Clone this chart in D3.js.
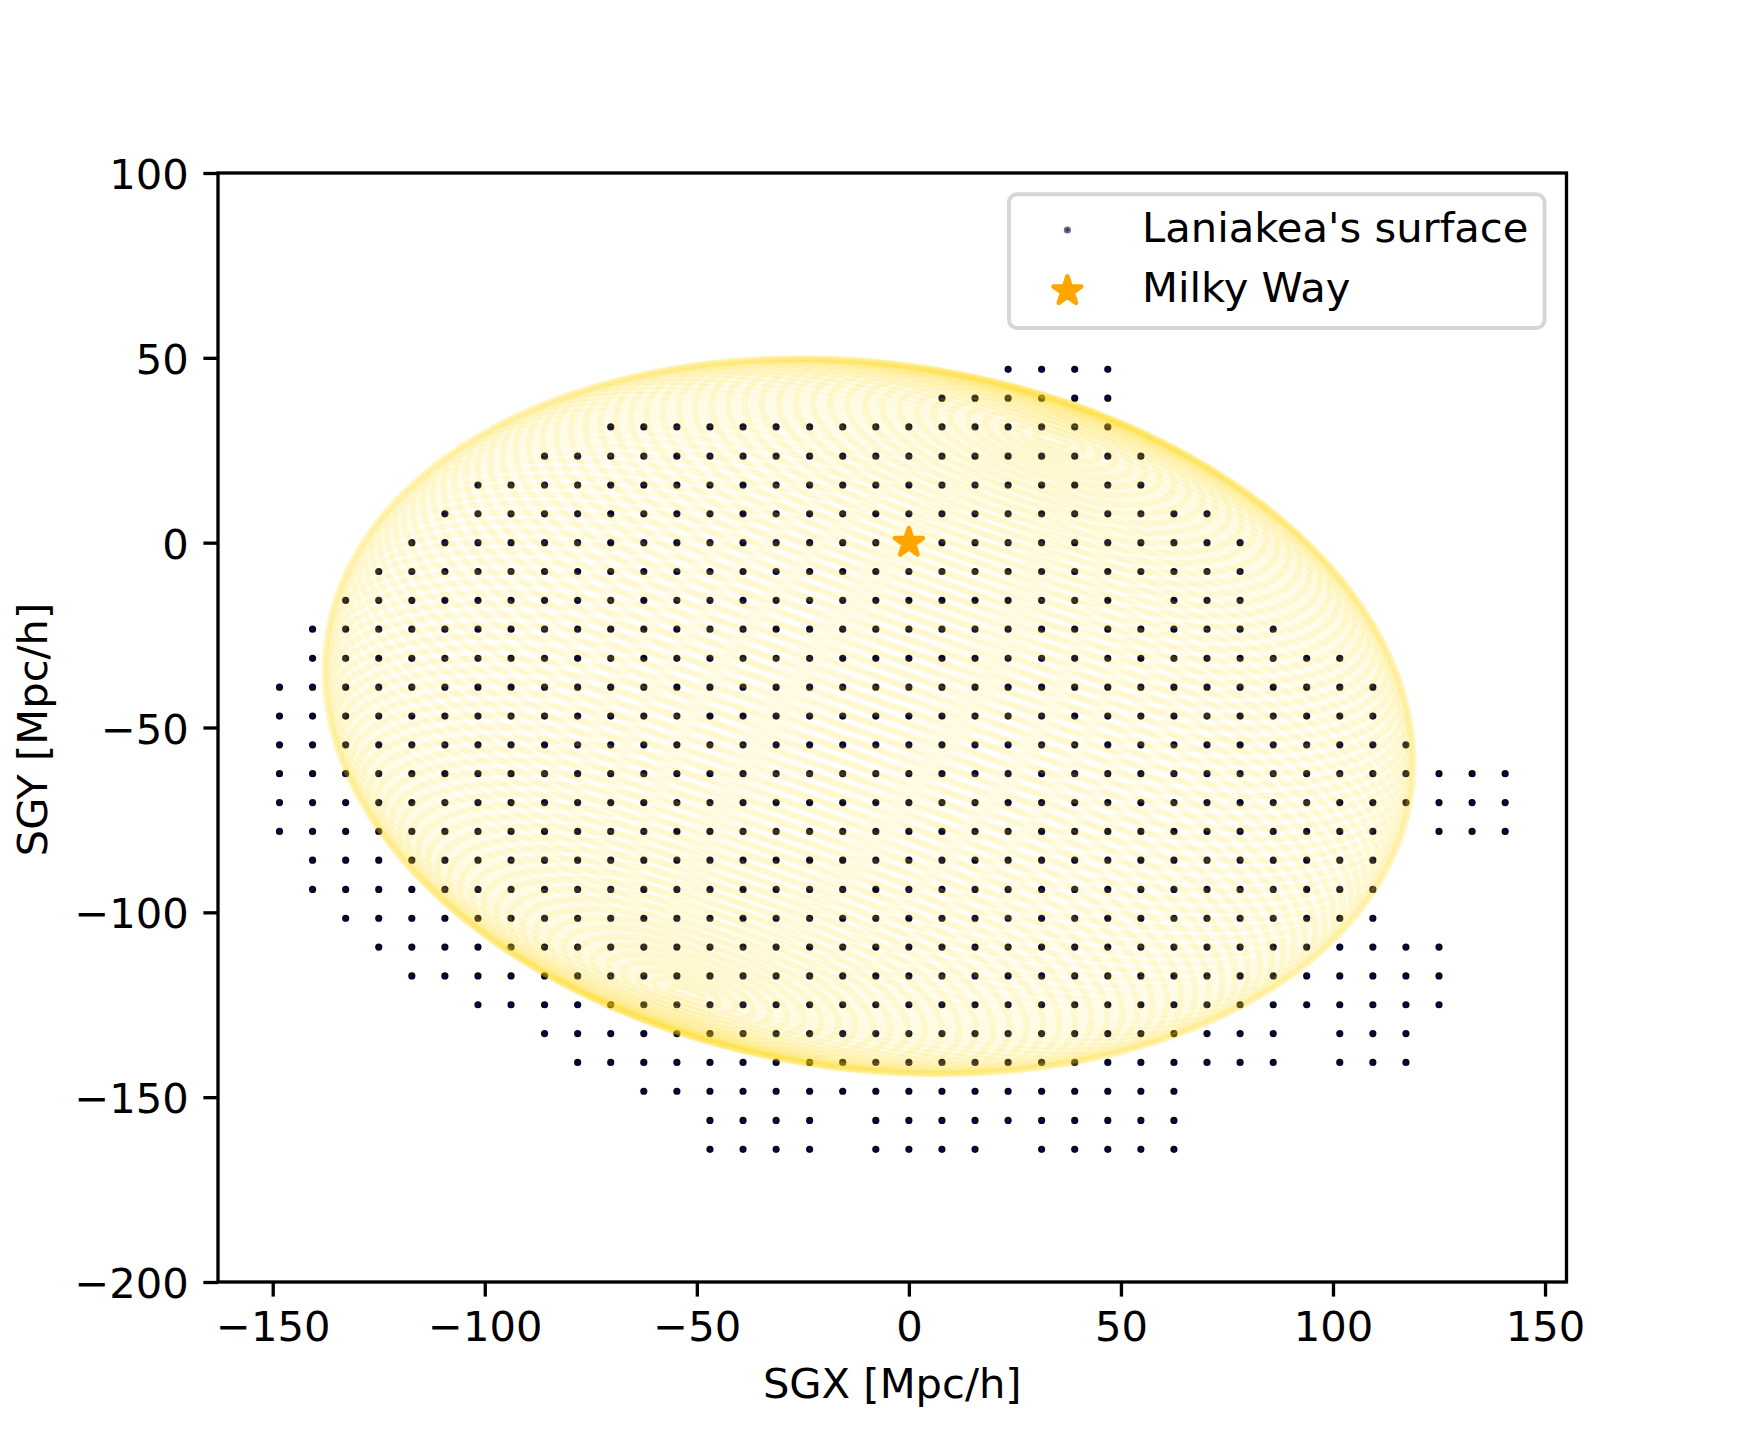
<!DOCTYPE html>
<html lang="en">
<head>
  <meta charset="UTF-8">
  <title>Laniakea's surface</title>
  <script src="https://d3js.org/d3.v7.min.js"></script>
  <style>
    html, body { margin: 0; background: #fff; }
    svg { display: block; }
    text { font-family: "DejaVu Sans", sans-serif; font-size: 41.67px; fill: #000; }
    .axis path { display: none; }
    .axis line { stroke: #000; stroke-width: 3.33px; }
  </style>
</head>
<body>
  <svg width="1740" height="1440"></svg>

  <script>
    const xTicks = [-150, -100, -50, 0, 50, 100, 150];
    const yTicks = [-200, -150, -100, -50, 0, 50, 100];

    // grid rows of Laniakea's surface points
    const surfaceSGY = [46.9, 39.1, 31.3, 23.4, 15.6, 7.8, 0, -7.8, -15.6, -23.4, -31.3, -39.1, -46.9, -54.7,
      -62.5, -70.3, -78.1, -85.9, -93.8, -101.6, -109.4, -117.2, -125, -132.8, -140.6, -148.4, -156.3, -164.1];
    const surfaceSGX = [
      [23.4,31.3,39.1,46.9],
      [7.8,15.6,23.4,31.3,39.1,46.9],
      [-70.3,-62.5,-54.7,-46.9,-39.1,-31.3,-23.4,-15.6,-7.8,0,7.8,15.6,23.4,31.3,39.1,46.9],
      [-85.9,-78.1,-70.3,-62.5,-54.7,-46.9,-39.1,-31.3,-23.4,-15.6,-7.8,0,7.8,15.6,23.4,31.3,39.1,46.9,54.7],
      [-101.6,-93.8,-85.9,-78.1,-70.3,-62.5,-54.7,-46.9,-39.1,-31.3,-23.4,-15.6,-7.8,0,7.8,15.6,23.4,31.3,39.1,46.9,54.7],
      [-109.4,-101.6,-93.8,-85.9,-78.1,-70.3,-62.5,-54.7,-46.9,-39.1,-31.3,-23.4,-15.6,-7.8,0,7.8,15.6,23.4,31.3,39.1,46.9,54.7,62.5,70.3],
      [-117.2,-109.4,-101.6,-93.8,-85.9,-78.1,-70.3,-62.5,-54.7,-46.9,-39.1,-31.3,-23.4,-15.6,-7.8,0,7.8,15.6,23.4,31.3,39.1,46.9,54.7,62.5,70.3,78.1],
      [-125,-117.2,-109.4,-101.6,-93.8,-85.9,-78.1,-70.3,-62.5,-54.7,-46.9,-39.1,-31.3,-23.4,-15.6,-7.8,0,7.8,15.6,23.4,31.3,39.1,46.9,54.7,62.5,70.3,78.1],
      [-132.8,-125,-117.2,-109.4,-101.6,-93.8,-85.9,-78.1,-70.3,-62.5,-54.7,-46.9,-39.1,-31.3,-23.4,-15.6,-7.8,0,7.8,15.6,23.4,31.3,39.1,46.9,62.5,70.3,78.1],
      [-140.6,-132.8,-125,-117.2,-109.4,-101.6,-93.8,-85.9,-78.1,-70.3,-62.5,-54.7,-46.9,-39.1,-31.3,-23.4,-15.6,-7.8,0,7.8,15.6,23.4,31.3,39.1,46.9,54.7,62.5,70.3,78.1,85.9],
      [-140.6,-132.8,-125,-117.2,-109.4,-101.6,-93.8,-85.9,-78.1,-70.3,-62.5,-54.7,-46.9,-39.1,-31.3,-23.4,-15.6,-7.8,0,7.8,15.6,23.4,31.3,39.1,46.9,54.7,62.5,70.3,78.1,85.9,93.8,101.6],
      [-148.4,-140.6,-132.8,-125,-117.2,-109.4,-101.6,-93.8,-85.9,-78.1,-70.3,-62.5,-54.7,-46.9,-39.1,-31.3,-23.4,-15.6,-7.8,0,7.8,15.6,23.4,31.3,39.1,46.9,54.7,62.5,70.3,78.1,85.9,93.8,101.6,109.4],
      [-148.4,-140.6,-132.8,-125,-117.2,-109.4,-101.6,-93.8,-85.9,-78.1,-70.3,-62.5,-54.7,-46.9,-39.1,-31.3,-23.4,-15.6,-7.8,0,7.8,15.6,23.4,31.3,39.1,46.9,54.7,62.5,70.3,78.1,85.9,93.8,101.6,109.4],
      [-148.4,-140.6,-132.8,-125,-117.2,-109.4,-101.6,-93.8,-85.9,-78.1,-70.3,-62.5,-54.7,-46.9,-39.1,-31.3,-23.4,-15.6,-7.8,0,7.8,15.6,23.4,31.3,39.1,46.9,54.7,62.5,70.3,78.1,85.9,93.8,101.6,109.4,117.2],
      [-148.4,-140.6,-132.8,-125,-117.2,-109.4,-101.6,-93.8,-85.9,-78.1,-70.3,-62.5,-54.7,-46.9,-39.1,-31.3,-23.4,-15.6,-7.8,0,7.8,15.6,23.4,31.3,39.1,46.9,54.7,62.5,70.3,78.1,85.9,93.8,101.6,109.4,117.2,125,132.8,140.6],
      [-148.4,-140.6,-132.8,-125,-117.2,-109.4,-101.6,-93.8,-85.9,-78.1,-70.3,-62.5,-54.7,-46.9,-39.1,-31.3,-23.4,-15.6,-7.8,0,7.8,15.6,23.4,31.3,39.1,46.9,54.7,62.5,70.3,78.1,85.9,93.8,101.6,109.4,117.2,125,132.8,140.6],
      [-148.4,-140.6,-132.8,-125,-117.2,-109.4,-101.6,-93.8,-85.9,-78.1,-70.3,-62.5,-54.7,-46.9,-39.1,-31.3,-23.4,-15.6,-7.8,0,7.8,15.6,23.4,31.3,39.1,46.9,54.7,62.5,70.3,78.1,85.9,93.8,101.6,109.4,125,132.8,140.6],
      [-140.6,-132.8,-125,-117.2,-109.4,-101.6,-93.8,-85.9,-78.1,-70.3,-62.5,-54.7,-46.9,-39.1,-31.3,-23.4,-15.6,-7.8,0,7.8,15.6,23.4,31.3,39.1,46.9,54.7,62.5,70.3,78.1,85.9,93.8,101.6,109.4],
      [-140.6,-132.8,-125,-117.2,-109.4,-101.6,-93.8,-85.9,-78.1,-70.3,-62.5,-54.7,-46.9,-39.1,-31.3,-23.4,-15.6,-7.8,0,7.8,15.6,23.4,31.3,39.1,46.9,54.7,62.5,70.3,78.1,85.9,93.8,101.6,109.4],
      [-132.8,-125,-117.2,-109.4,-101.6,-93.8,-85.9,-78.1,-70.3,-62.5,-54.7,-46.9,-39.1,-31.3,-23.4,-15.6,-7.8,0,7.8,15.6,23.4,31.3,39.1,46.9,54.7,62.5,70.3,78.1,85.9,93.8,101.6,109.4],
      [-125,-117.2,-109.4,-101.6,-93.8,-85.9,-78.1,-70.3,-62.5,-54.7,-46.9,-39.1,-31.3,-23.4,-15.6,-7.8,0,7.8,15.6,23.4,31.3,39.1,46.9,54.7,62.5,70.3,78.1,85.9,93.8,101.6,109.4,117.2,125],
      [-117.2,-109.4,-101.6,-93.8,-85.9,-78.1,-70.3,-62.5,-54.7,-46.9,-39.1,-31.3,-23.4,-15.6,-7.8,0,7.8,15.6,23.4,31.3,39.1,46.9,54.7,62.5,70.3,78.1,85.9,93.8,101.6,109.4,117.2,125],
      [-101.6,-93.8,-85.9,-78.1,-70.3,-62.5,-54.7,-46.9,-39.1,-31.3,-23.4,-15.6,-7.8,0,7.8,15.6,23.4,31.3,39.1,46.9,54.7,62.5,70.3,78.1,85.9,93.8,101.6,109.4,117.2,125],
      [-85.9,-78.1,-70.3,-62.5,-54.7,-46.9,-39.1,-31.3,-23.4,-15.6,-7.8,0,7.8,15.6,23.4,31.3,39.1,46.9,54.7,62.5,70.3,78.1,85.9,101.6,109.4,117.2],
      [-78.1,-70.3,-62.5,-54.7,-46.9,-39.1,-31.3,-23.4,-15.6,-7.8,0,7.8,15.6,23.4,31.3,39.1,46.9,54.7,62.5,70.3,78.1,85.9,101.6,109.4,117.2],
      [-62.5,-54.7,-46.9,-39.1,-31.3,-23.4,-15.6,-7.8,0,7.8,15.6,23.4,31.3,39.1,46.9,54.7,62.5],
      [-46.9,-39.1,-31.3,-23.4,-7.8,0,7.8,15.6,23.4,31.3,39.1,46.9,54.7,62.5],
      [-46.9,-39.1,-31.3,-23.4,-7.8,0,7.8,15.6,31.3,39.1,46.9,54.7,62.5]
    ];

    const milkyWay = [0, 0];

    // the ellipsoid seen flat on: centre, pole offset and the two semi-axes of its rings
    const shellCentre = [-9.4, -46.95];
    const shellPole = [43, 75];
    const shellAxisA = [120.09, -45.5];
    const shellAxisB = [15.55, 41.05];
    const shellRings = 100, shellRingPts = 100;

    const svg = d3.select("svg"),
          width = +svg.attr("width"),
          height = +svg.attr("height"),
          margin = { top: 173, right: 173.5, bottom: 158, left: 218 },
          innerWidth = width - margin.left - margin.right,
          innerHeight = height - margin.top - margin.bottom;

    const g = svg.append("g").attr("transform", `translate(${margin.left},${margin.top})`);

    const x = d3.scaleLinear().domain([-162.9, 155.06]).range([0, innerWidth]);
    const y = d3.scaleLinear().domain([-200, 100]).range([innerHeight, 0]);

    const points = surfaceSGY.flatMap((sgy, k) => surfaceSGX[k].map(sgx => [sgx, sgy]));

    g.append("g").selectAll("circle")
      .data(points)
      .enter().append("circle")
      .attr("cx", d => x(d[0]))
      .attr("cy", d => y(d[1]))
      .attr("r", 2.5)
      .attr("fill", "#0000a8")
      .attr("stroke", "#08080f")
      .attr("stroke-width", 2.2);

    // one line per latitude of the shell, same as plotting the surface columns
    const ringLine = d3.line().x(d => x(d[0])).y(d => y(d[1]));
    const rings = d3.range(shellRings).map(k => {
      const theta = Math.PI * k / (shellRings - 1);
      return d3.range(shellRingPts).map(m => {
        const phi = 2 * Math.PI * m / (shellRingPts - 1);
        const s = Math.sin(theta), c = Math.cos(theta);
        return [
          shellCentre[0] + c * shellPole[0] + s * (Math.cos(phi) * shellAxisA[0] + Math.sin(phi) * shellAxisB[0]),
          shellCentre[1] + c * shellPole[1] + s * (Math.cos(phi) * shellAxisA[1] + Math.sin(phi) * shellAxisB[1])
        ];
      });
    });

    g.append("g").selectAll("path")
      .data(rings)
      .enter().append("path")
      .attr("d", ringLine)
      .attr("fill", "none")
      .attr("stroke", "#ffd700")
      .attr("stroke-opacity", 0.1)
      .attr("stroke-width", 6.25);

    const star = d3.symbol().type(d3.symbolStar).size(240);

    g.append("path")
      .attr("d", star)
      .attr("transform", `translate(${x(milkyWay[0])},${y(milkyWay[1])})`)
      .attr("fill", "#ffa500")
      .attr("stroke", "#ffa500")
      .attr("stroke-width", 4.6)
      .attr("stroke-linejoin", "round");

    const xAxis = g.append("g").attr("class", "axis")
      .attr("transform", `translate(0,${innerHeight})`)
      .call(d3.axisBottom(x).tickValues(xTicks).tickFormat(d3.format("d")).tickSize(14.6).tickPadding(14.6));

    const yAxis = g.append("g").attr("class", "axis")
      .call(d3.axisLeft(y).tickValues(yTicks).tickFormat(d3.format("d")).tickSize(14.6).tickPadding(14.6));

    xAxis.attr("font-size", 41.67).attr("font-family", "DejaVu Sans");
    yAxis.attr("font-size", 41.67).attr("font-family", "DejaVu Sans");
    yAxis.selectAll("text").attr("dy", "0.375em");

    g.append("rect")
      .attr("width", innerWidth)
      .attr("height", innerHeight)
      .attr("fill", "none")
      .attr("stroke", "#000")
      .attr("stroke-width", 3.33);

    g.append("text")
      .attr("x", innerWidth / 2)
      .attr("y", innerHeight + 116)
      .attr("text-anchor", "middle")
      .text("SGX [Mpc/h]");

    g.append("text")
      .attr("transform", `translate(${33 + 14 - margin.left},${innerHeight / 2 + 2}) rotate(-90)`)
      .attr("text-anchor", "middle")
      .text("SGY [Mpc/h]");

    // legend
    const legend = svg.append("g");

    legend.append("rect")
      .attr("x", 1009)
      .attr("y", 194.3)
      .attr("width", 535.5)
      .attr("height", 133.7)
      .attr("rx", 8.3)
      .attr("fill", "#fff")
      .attr("stroke", "#d6d6d6")
      .attr("stroke-width", 3.9);

    legend.append("circle")
      .attr("cx", 1067.4)
      .attr("cy", 230)
      .attr("r", 2.5)
      .attr("fill", "#2020b8")
      .attr("stroke", "#6c6c78")
      .attr("stroke-width", 2.2);

    legend.append("path")
      .attr("d", star)
      .attr("transform", "translate(1067.4,291)")
      .attr("fill", "#ffa500")
      .attr("stroke", "#ffa500")
      .attr("stroke-width", 4.6)
      .attr("stroke-linejoin", "round");

    legend.append("text").attr("x", 1142).attr("y", 242).text("Laniakea's surface");
    legend.append("text").attr("x", 1142).attr("y", 302).text("Milky Way");
  </script>
</body>
</html>
